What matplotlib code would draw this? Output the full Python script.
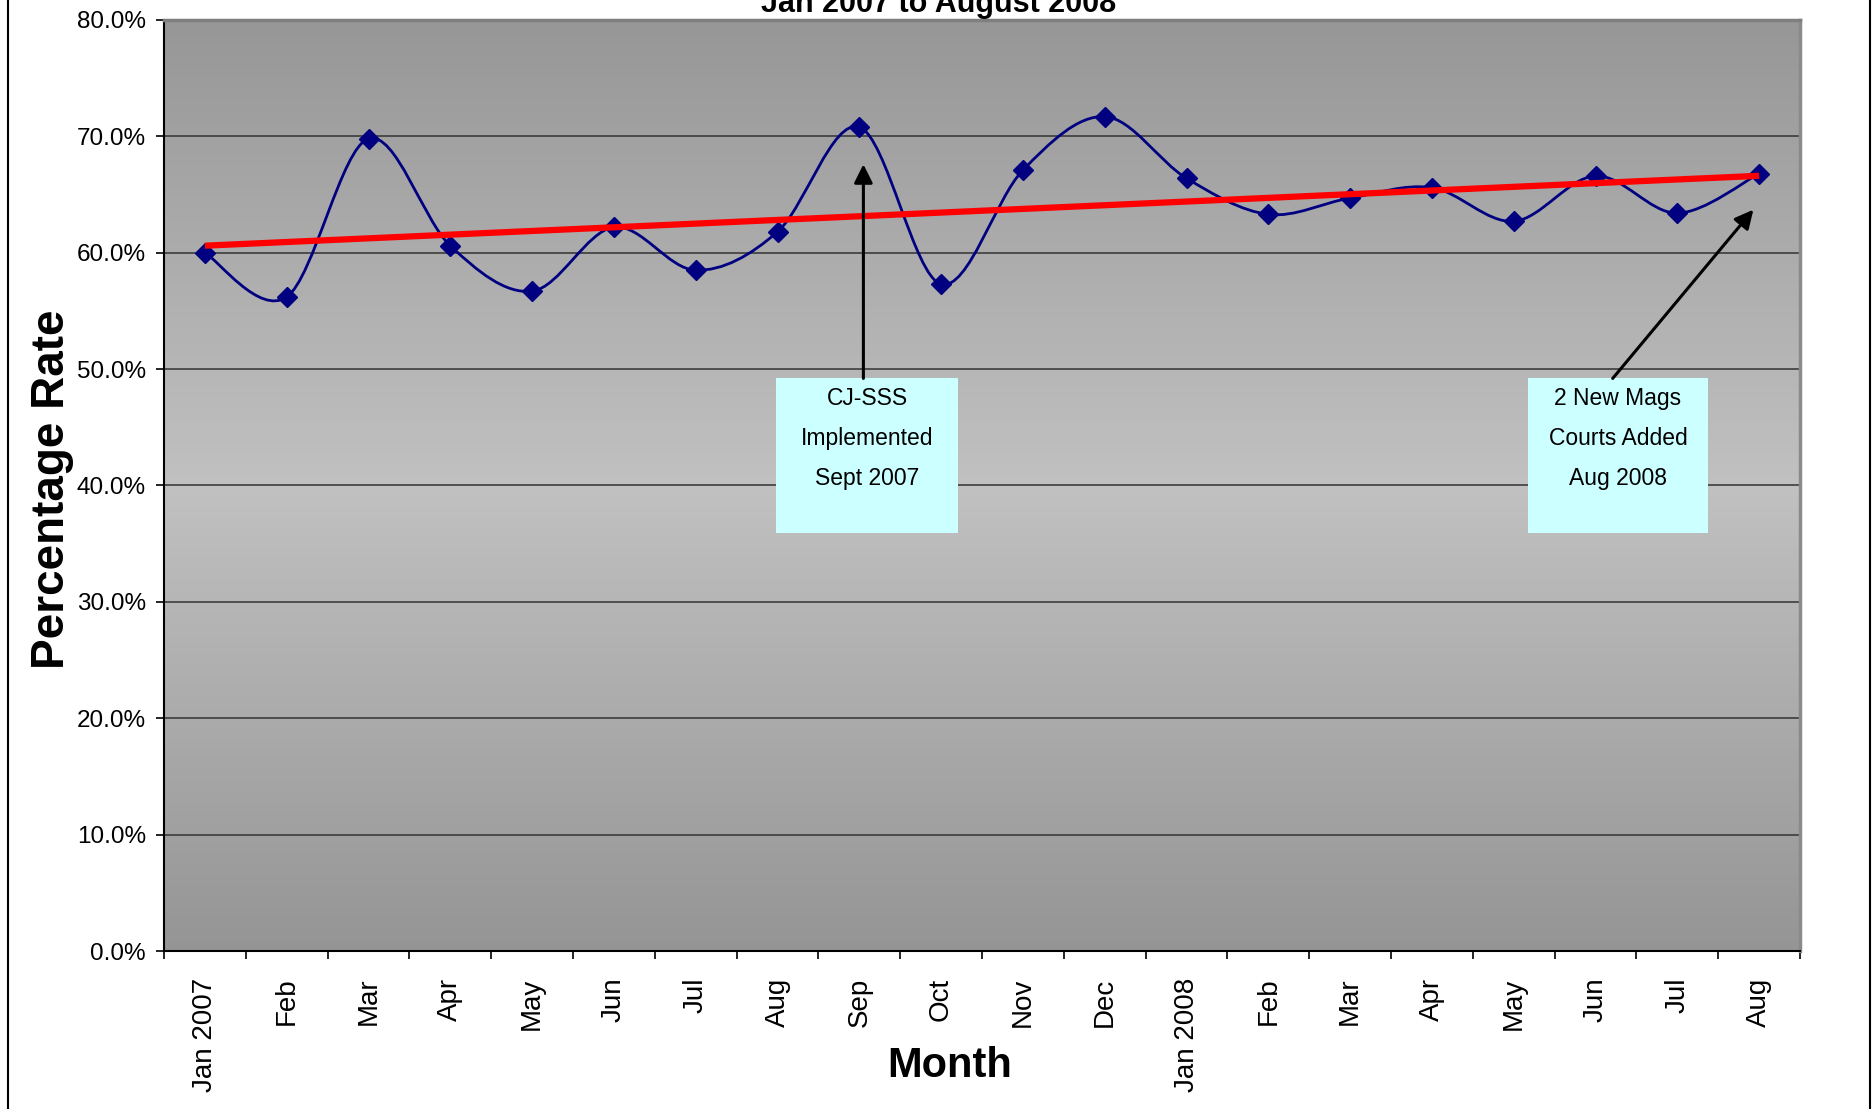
import numpy as np
import matplotlib
matplotlib.use("Agg")
from matplotlib import pyplot as plt
from matplotlib.path import Path
from matplotlib.patches import PathPatch, Rectangle
from matplotlib.lines import Line2D
from matplotlib.colors import LinearSegmentedColormap

# data
months = ["Jan 2007", "Feb", "Mar", "Apr", "May", "Jun", "Jul", "Aug", "Sep", "Oct",
          "Nov", "Dec", "Jan 2008", "Feb", "Mar", "Apr", "May", "Jun", "Jul", "Aug"]
rate = [60.0, 56.2, 69.8, 60.6, 56.7, 62.2, 58.5, 61.8, 70.8, 57.3,
        67.1, 71.7, 66.4, 63.3, 64.7, 65.6, 62.7, 66.6, 63.4, 66.8]
y_ticks = [0, 10, 20, 30, 40, 50, 60, 70, 80]
note_sep = "CJ-SSS\nImplemented\nSept 2007"
note_aug = "2 New Mags\nCourts Added\nAug 2008"

FONT = ["Liberation Sans", "DejaVu Sans"]
NAVY = "#000080"

x = np.arange(len(months))
y = np.array(rate)

fig = plt.figure(figsize=(18.74, 11.09), dpi=100)
fig.patch.set_facecolor("white")
ax = fig.add_axes([164 / 1874, 1 - 951 / 1109, 1636 / 1874, 931 / 1109])

# grey gradient plot background
cmap = LinearSegmentedColormap.from_list("bg", ["#959595", "#c1c1c1", "#979797"])
ax.imshow(np.linspace(0, 1, 256).reshape(-1, 1), cmap=cmap, aspect="auto",
          extent=[-0.5, len(months) - 0.5, 0, 80], origin="lower", zorder=0)

ax.set_xlim(-0.5, len(months) - 0.5)
ax.set_ylim(0, 80)

# gridlines
for v in y_ticks[1:-1]:
    ax.axhline(v, color="#3c3c3c", lw=1.2, zorder=1)

# smoothed series (bezier through the points, like excel's smoothed line)
pts = np.column_stack([x, y]).astype(float)
verts = [tuple(pts[0])]
codes = [Path.MOVETO]
n = len(pts)
for i in range(n - 1):
    p0 = pts[max(i - 1, 0)]
    p1 = pts[i]
    p2 = pts[i + 1]
    p3 = pts[min(i + 2, n - 1)]
    c1 = p1 + (p2 - p0) / 6.0
    c2 = p2 - (p3 - p1) / 6.0
    verts += [tuple(c1), tuple(c2), tuple(p2)]
    codes += [Path.CURVE4] * 3
ax.add_patch(PathPatch(Path(verts, codes), facecolor="none", edgecolor=NAVY, lw=2.0, zorder=3))
ax.plot(x, y, linestyle="none", marker="D", ms=10, color=NAVY, zorder=4)

# linear trend line
k, b = np.polyfit(x, y, 1)
ax.plot([x[0], x[-1]], [k * x[0] + b, k * x[-1] + b], color="#ff0000", lw=4.5,
        solid_capstyle="butt", zorder=5)

# annotations
for (bx0, bx1), txt, start, end in [((6.98, 9.21), note_sep, (8.05, 49.2), (8.05, 67.6)),
                                    ((16.17, 18.38), note_aug, (17.21, 49.2), (18.93, 63.7))]:
    ax.add_patch(Rectangle((bx0, 35.9), bx1 - bx0, 13.3, facecolor="#ccffff",
                           edgecolor="none", zorder=6))
    ax.text((bx0 + bx1) / 2, 44.05, txt, ha="center", va="center", fontsize=16.5,
            family=FONT, linespacing=1.95, zorder=7)
    ax.annotate("", xy=end, xytext=start,
                arrowprops=dict(arrowstyle="-|>", color="black", lw=2.2,
                                mutation_scale=28, shrinkA=0, shrinkB=0), zorder=7)

# axes styling
ax.set_yticks(y_ticks)
ax.set_yticklabels(["%.1f%%" % v for v in y_ticks], family=FONT, fontsize=17.5)
ax.tick_params(axis="y", direction="out", length=6, width=1.2, pad=7)
ax.set_xticks(np.arange(-0.5, len(months)))
ax.set_xticklabels([])
ax.tick_params(axis="x", which="major", direction="out", length=6, width=1.2)
ax.set_xticks(x, minor=True)
ax.set_xticklabels(months, minor=True, rotation=90, family=FONT, fontsize=20)
ax.tick_params(axis="x", which="minor", length=0, pad=19)
ax.spines["left"].set_color("black")
ax.spines["bottom"].set_color("black")
ax.spines["left"].set_linewidth(1.5)
ax.spines["bottom"].set_linewidth(1.5)
ax.spines["top"].set_color("#7f7f7f")
ax.spines["right"].set_color("#8a8a8a")
ax.spines["top"].set_linewidth(2.5)
ax.spines["right"].set_linewidth(2.5)

# labels and (cut off) title
fig.text(52 / 1874, 1 - 489 / 1109, "Percentage Rate", rotation=90, ha="center",
         va="center", fontsize=33, fontweight="bold", family=FONT)
fig.text(950 / 1874, 1 - 1077 / 1109, "Month", ha="center", va="baseline",
         fontsize=30, fontweight="bold", family=FONT)
fig.text(939 / 1874, 1 - 12 / 1109, "Jan 2007 to August 2008", ha="center",
         va="baseline", fontsize=22, fontweight="bold", family=FONT)

# outer frame sides
fig.add_artist(Line2D([8 / 1874] * 2, [0, 1], transform=fig.transFigure, color="black", lw=1.5))
fig.add_artist(Line2D([1870 / 1874] * 2, [0, 1], transform=fig.transFigure, color="black", lw=1.5))

fig.savefig("out.png", dpi=100)
